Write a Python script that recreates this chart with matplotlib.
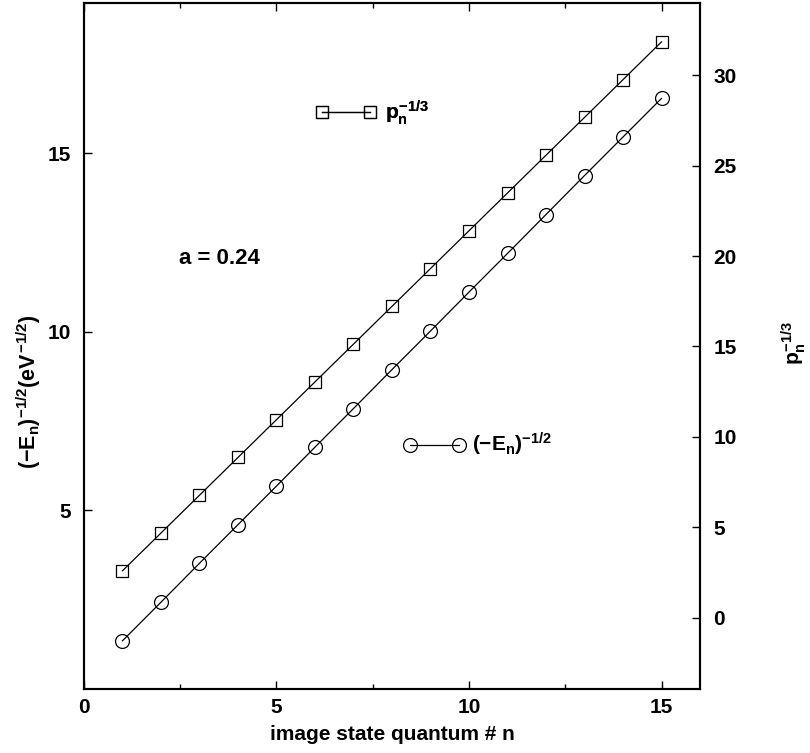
import numpy as np
import matplotlib
matplotlib.use('Agg')
import matplotlib.pyplot as plt
from matplotlib.ticker import MultipleLocator

plt.rcParams['font.family'] = ['Liberation Sans', 'DejaVu Sans']
plt.rcParams['font.weight'] = 'bold'
plt.rcParams['mathtext.fontset'] = 'custom'
plt.rcParams['mathtext.rm'] = 'Liberation Sans:bold'
plt.rcParams['mathtext.it'] = 'Liberation Sans:bold'
plt.rcParams['mathtext.bf'] = 'Liberation Sans:bold'
plt.rcParams['mathtext.sf'] = 'Liberation Sans:bold'

# image state quantum number n
n = [1, 2, 3, 4, 5, 6, 7, 8, 9, 10, 11, 12, 13, 14, 15]
# (-E_n)^(-1/2), left axis
inv_sqrt_E = [1.35, 2.43, 3.52, 4.60, 5.68, 6.77, 7.85, 8.94, 10.02, 11.11,
              12.19, 13.28, 14.37, 15.45, 16.53]
# p_n^(-1/3), right axis
p_inv_cbrt = [2.59, 4.68, 6.77, 8.86, 10.95, 13.04, 15.13, 17.22, 19.31, 21.40,
              23.49, 25.58, 27.67, 29.76, 31.85]

fig = plt.figure(figsize=(8.1, 7.53), dpi=100)
ax = fig.add_axes([0.1037, 0.085, 0.7605, 0.911])
ax2 = ax.twinx()

circ, = ax.plot(n, inv_sqrt_E, '-', color='black', lw=0.9, marker='o', ms=10,
                mfc='none', mec='black', mew=0.9)
sq, = ax2.plot(n, p_inv_cbrt, '-', color='black', lw=0.9, marker='s', ms=8.5,
               mfc='none', mec='black', mew=0.9)

ax.set_xlim(0, 16)
ax.set_ylim(0, 19.2)
ax2.set_ylim(-3.95, 34.0)

ax.xaxis.set_major_locator(MultipleLocator(5))
ax.xaxis.set_minor_locator(MultipleLocator(2.5))
ax.set_yticks([5, 10, 15])
ax2.set_yticks([0, 5, 10, 15, 20, 25, 30])

ax.tick_params(axis='x', which='both', direction='in', top=True, labelsize=15, pad=6.5)
ax.tick_params(axis='x', which='major', length=6, width=1)
ax.tick_params(axis='x', which='minor', length=3.5, width=1)
ax.tick_params(axis='y', which='major', direction='in', length=6, width=1, labelsize=15, pad=9.5)
ax2.tick_params(axis='y', which='major', direction='in', length=6, width=1, labelsize=15, pad=9.5)

for a in (ax, ax2):
    for s in a.spines.values():
        s.set_linewidth(1.5)

ax.set_xlabel('image state quantum # n', fontsize=15, fontweight='bold')
ax.xaxis.set_label_coords(0.5, -0.052)
ax.set_ylabel(r'$(-E_n)^{-1/2}(eV^{-1/2})$', fontsize=15.5)
ax.yaxis.set_label_coords(-0.066, 0.433)
ax2.set_ylabel(r'$p_n^{-1/3}$', fontsize=15)
ax2.yaxis.set_label_coords(1.128, 0.504)

ax.text(0.154, 0.628, 'a = 0.24', transform=ax.transAxes, fontsize=16,
        fontweight='bold', va='center', ha='left')

leg1 = ax.legend(handles=[sq], labels=[r'$p_n^{-1/3}$'], numpoints=2, frameon=False,
                 loc='center left', bbox_to_anchor=(0.377, 0.840), borderpad=0,
                 borderaxespad=0, handlelength=2.9, handletextpad=0.4, fontsize=15)
ax.add_artist(leg1)
leg2 = ax2.legend(handles=[circ], labels=[r'$(-E_n)^{-1/2}$'], numpoints=2, frameon=False,
                  loc='center left', bbox_to_anchor=(0.519, 0.356), borderpad=0,
                  borderaxespad=0, handlelength=2.95, handletextpad=0.35, fontsize=15)

fig.savefig('out.png', dpi=100)
